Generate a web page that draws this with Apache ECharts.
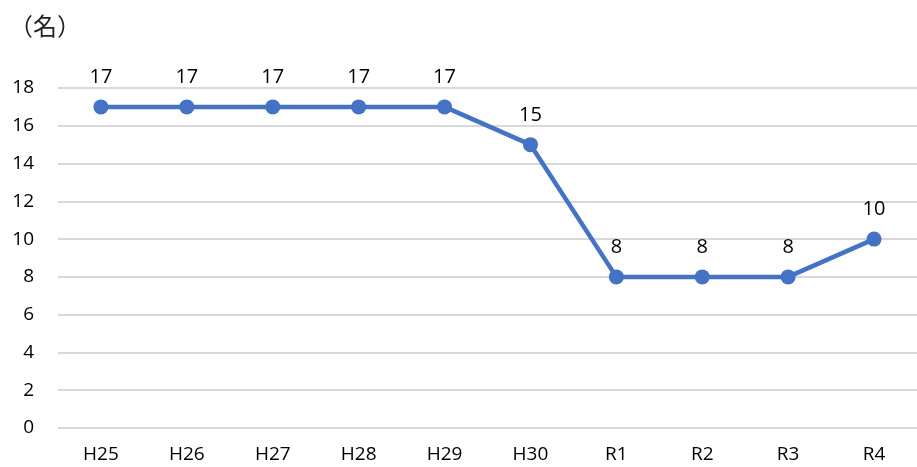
<!DOCTYPE html>
<html>
<head>
<meta charset="utf-8">
<script src="https://cdn.jsdelivr.net/npm/echarts@6/dist/echarts.min.js"></script>
<style>
  html, body { margin: 0; padding: 0; background: #fff; }
  #chart { width: 917px; height: 467px; }
</style>
</head>
<body>
<div id="chart"></div>
<script>
// Fiscal years (Heisei / Reiwa) and the headcount for each
const years = ['H25', 'H26', 'H27', 'H28', 'H29', 'H30', 'R1', 'R2', 'R3', 'R4'];
const counts = [17, 17, 17, 17, 17, 15, 8, 8, 8, 10];
const unitLabel = '（名）';

const font = '"Open Sans", "Noto Sans", sans-serif';
const chart = echarts.init(document.getElementById('chart'));
chart.setOption({
  animation: false,
  title: {
    text: unitLabel,
    left: 4,
    top: 9,
    textStyle: { fontFamily: '"Noto Sans CJK JP", sans-serif', fontSize: 24, fontWeight: 'normal', color: '#222' }
  },
  grid: { left: 58, top: 88, width: 864, height: 340, containLabel: false },
  xAxis: {
    type: 'category',
    data: years,
    boundaryGap: true,
    axisLine: { show: false },
    axisTick: { show: false },
    axisLabel: { color: '#000', fontSize: 19, fontFamily: font, margin: 17 }
  },
  yAxis: {
    type: 'value',
    min: 0,
    max: 18,
    interval: 2,
    axisLine: { show: false },
    axisTick: { show: false },
    axisLabel: { color: '#000', fontSize: 19, fontFamily: font, margin: 24 },
    splitLine: { lineStyle: { color: '#d9d9d9', width: 2 } }
  },
  series: [{
    type: 'line',
    data: counts,
    symbol: 'circle',
    symbolSize: 15,
    itemStyle: { color: '#4472c4' },
    lineStyle: { color: '#4472c4', width: 4.5 },
    label: {
      show: true,
      position: 'top',
      distance: 12,
      color: '#000',
      fontSize: 20,
      fontFamily: font
    }
  }]
});
</script>
</body>
</html>
